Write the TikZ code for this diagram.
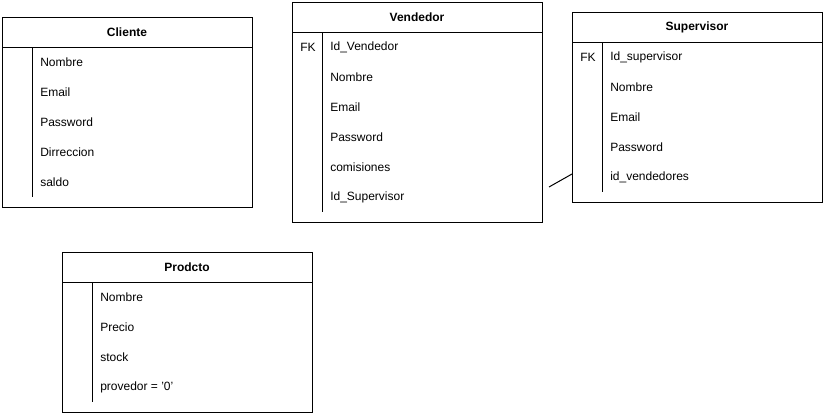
\documentclass[tikz,border=0pt]{standalone}
\usepackage{fontspec}
\setmainfont{Liberation Sans}
\usetikzlibrary{positioning}
\definecolor{linegray}{RGB}{0, 0, 0}

\tikzset{
  table/.style={draw=linegray, line width=0.75pt, anchor=north west, inner sep=0pt},
  title/.style={font=\fontsize{9}{11}\selectfont\bfseries, inner sep=0pt},
  field/.style={font=\fontsize{9}{11}\selectfont, anchor=west, inner sep=0pt},
  key/.style={font=\fontsize{9}{11}\selectfont, anchor=west, inner sep=0pt}
}

\begin{document}
\begin{tikzpicture}[x=0.75pt, y=-0.75pt]
    \useasboundingbox (0,0) rectangle (826,415);

    % Cliente
    \node[table, minimum width=187.5pt, minimum height=142.5pt] (cliente) at (2,17) {};
    \node[title] (cliente-t) at (127,32) {Cliente};
    \draw[line width=0.75pt] (2,47) -- (252,47);
    \draw[line width=0.75pt] (32,47) -- (32,197);
    \foreach \txt [count=\i] in {Nombre,Email,Password,Dirreccion,saldo}
        \node[field] (cliente-\i) at (40,{32+30*\i}) {\txt};

    % Vendedor
    \node[table, minimum width=187.5pt, minimum height=165pt] (vendedor) at (292,2) {};
    \node[title] (vendedor-t) at (417,17) {Vendedor};
    \draw[line width=0.75pt] (292,32) -- (542,32);
    \draw[line width=0.75pt] (322,32) -- (322,212);
    \node[key] (vendedor-fk) at (300,47) {FK};
    \foreach \txt [count=\i] in {Id\_Vendedor,Nombre,Email,Password,comisiones,Id\_Supervisor}
        \node[field] (vendedor-\i) at (330,{17+30*\i}) {\txt};

    % Supervisor
    \node[table, minimum width=187.5pt, minimum height=142.5pt] (supervisor) at (572,12) {};
    \node[title] (supervisor-t) at (697,27) {Supervisor};
    \draw[line width=0.75pt] (572,42) -- (822,42);
    \draw[line width=0.75pt] (602,42) -- (602,192);
    \node[key] (supervisor-fk) at (580,57) {FK};
    \foreach \txt [count=\i] in {Id\_supervisor,Nombre,Email,Password,id\_vendedores}
        \node[field] (supervisor-\i) at (610,{27+30*\i}) {\txt};

    % Prodcto
    \node[table, minimum width=187.5pt, minimum height=120pt] (prodcto) at (62,252) {};
    \node[title] (prodcto-t) at (187,267) {Prodcto};
    \draw[line width=0.75pt] (62,282) -- (312,282);
    \draw[line width=0.75pt] (92,282) -- (92,402);
    \foreach \txt [count=\i] in {Nombre,Precio,stock,{provedor = '0'}}
        \node[field] (prodcto-\i) at (100,{267+30*\i}) {\txt};

    % Link
    \coordinate (link) at (549,187);
    \coordinate (link-end) at (572,174);
    \draw[line width=0.75pt] (link) -- (link-end);
\end{tikzpicture}
\end{document}
